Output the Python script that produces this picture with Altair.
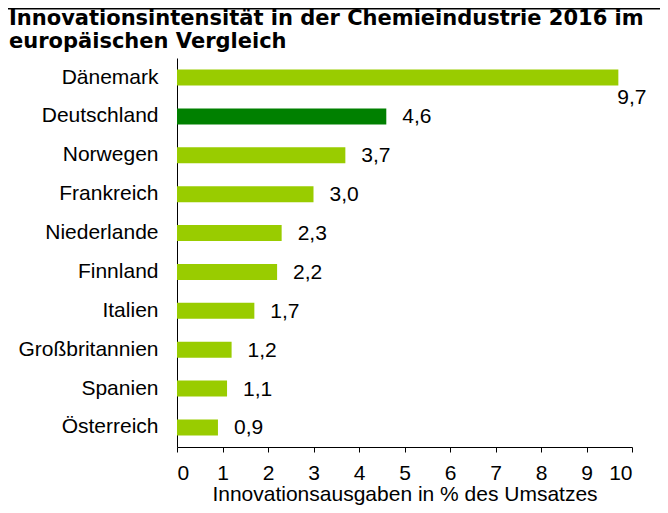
import altair as alt
import pandas as pd

laender = ["Dänemark", "Deutschland", "Norwegen", "Frankreich", "Niederlande",
           "Finnland", "Italien", "Großbritannien", "Spanien", "Österreich"]
werte = [9.7, 4.6, 3.7, 3.0, 2.3, 2.2, 1.7, 1.2, 1.1, 0.9]
labels = ["9,7", "4,6", "3,7", "3,0", "2,3", "2,2", "1,7", "1,2", "1,1", "0,9"]
x_ticks = list(range(0, 11))
titel = ["Innovationsintensität in der Chemieindustrie 2016 im", "europäischen Vergleich"]

df = pd.DataFrame({"land": laender, "wert": werte, "label": labels})

FONT = "Liberation Sans"
FS = 21

y_enc = alt.Y("land:N", sort=laender, title=None,
              scale=alt.Scale(paddingInner=0.59, paddingOuter=0.3),
              axis=alt.Axis(labelFont=FONT, labelFontSize=FS, labelColor="black",
                            ticks=False, domainColor="black", labelPadding=19,
                            labelLimit=300))
x_enc = alt.X("wert:Q", title="Innovationsausgaben in % des Umsatzes",
              scale=alt.Scale(domain=[0, 10], nice=False),
              axis=alt.Axis(values=x_ticks, grid=False, labelFont=FONT, labelFontSize=FS,
                            labelColor="black", titleFont=FONT, titleFontSize=FS,
                            titleFontWeight="normal", titleColor="black",
                            domainColor="black", tickColor="black", tickSize=5,
                            labelPadding=10, titlePadding=0))

base = alt.Chart(df)

bars = base.mark_bar(size=16).encode(
    x=x_enc, y=y_enc,
    color=alt.condition(alt.datum.land == "Deutschland", alt.value("#008000"), alt.value("#99cc00")),
)

txt_normal = base.transform_filter(alt.datum.wert < 9).mark_text(
    align="left", baseline="middle", dx=16, dy=1, font=FONT, fontSize=FS, color="black"
).encode(x="wert:Q", y=alt.Y("land:N", sort=laender), text="label:N")

txt_top = base.transform_filter(alt.datum.wert >= 9).mark_text(
    align="left", baseline="middle", dx=-1, dy=20, font=FONT, fontSize=FS, color="black"
).encode(x="wert:Q", y=alt.Y("land:N", sort=laender), text="label:N")


def title_line(text, y):
    return alt.Chart(pd.DataFrame({"t": [text]})).mark_text(
        align="left", baseline="alphabetic", font="DejaVu Sans", fontSize=21,
        fontWeight="bold", color="black"
    ).encode(x=alt.value(-168), y=alt.value(y), text="t:N")


title1 = title_line(titel[0], -33)
title2 = title_line(titel[1], -10)

top_line = alt.Chart(pd.DataFrame({"a": [0]})).mark_rule(color="black", strokeWidth=2).encode(
    x=alt.value(-169), x2=alt.value(483), y=alt.value(-49.5)
)

chart = alt.layer(bars, txt_normal, txt_top, title1, title2, top_line).properties(
    width=455, height=389,
    autosize=alt.AutoSizeParams(type="none"),
    padding={"left": 169, "top": 50, "right": 28, "bottom": 58},
).configure_view(stroke=None)

chart.save("out.html", embed_options={"renderer": "svg", "actions": False})
